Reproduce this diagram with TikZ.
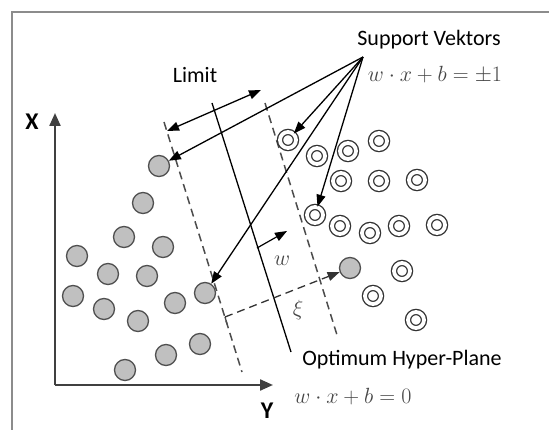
\RequirePackage{fix-cm}
\documentclass[tikz,border=0pt]{standalone}
\usepackage{fontspec}
\setmainfont{Carlito}
\usepackage{tikz}
\usetikzlibrary{arrows.meta,positioning,calc}
\definecolor{framegray}{RGB}{140,140,140}
\definecolor{dotgray}{RGB}{192,192,192}
\definecolor{edgegray}{RGB}{80,80,80}
\definecolor{eqgray}{RGB}{70,70,70}

\begin{document}
\begin{tikzpicture}[x=1pt,y=-1pt,
      arr/.style={-{Triangle[length=12pt,width=9pt]}, line width=1.3pt},
      axis/.style={-{Triangle[length=13pt,width=11pt]}, line width=2.2pt, black!75},
      marg/.style={dash pattern=on 8pt off 5pt, line width=1.5pt, black!70},
      lab/.style={font=\fontsize{22}{26}\selectfont, inner sep=0pt},
      eq/.style={font=\fontsize{22}{26}\selectfont, text=eqgray, inner sep=0pt},
      dotnode/.style={circle, draw=edgegray, fill=dotgray, line width=1.3pt,
                  minimum size=21pt, inner sep=0pt},
      ringnode/.style={circle, draw=black!80, double, double distance=3.8pt,
                  line width=1.3pt, minimum size=16pt, inner sep=0pt}
    ]
    \useasboundingbox (0,0) rectangle (549,430);
    \fill[white] (0,0) rectangle (549,430);
    % frame
    \draw[framegray, line width=2.5pt] (12,430) -- (12,12) -- (549,12);

    % axes
    \coordinate (o) at (55,385);
    \coordinate (xtip) at (55,113);
    \coordinate (ytip) at (273,385);
    \draw[axis] (o) -- (xtip);
    \draw[axis] (o) -- (ytip);
    \node[lab, font=\fontsize{24}{26}\selectfont\bfseries] (xlab) at (32,122) {X};
    \node[lab, font=\fontsize{24}{26}\selectfont\bfseries] (ylab) at (267,411) {Y};

    % margins and hyper-plane
    \coordinate (lefttop) at (164,122);  \coordinate (leftbot) at (242,372);
    \coordinate (hyptop) at (212,103);   \coordinate (hypbot) at (291,352);
    \coordinate (righttop) at (265,103); \coordinate (rightbot) at (337,335);
    \draw[marg] (lefttop) -- (leftbot);
    \draw[marg] (righttop) -- (rightbot);
    \draw[line width=1.3pt] (hyptop) -- (hypbot);

    % class -1
    \foreach \n/\p in {1/{159,166}, 2/{143,203}, 3/{124,237}, 4/{163,247},
                       5/{77,256}, 6/{108,274}, 7/{147,276}, 8/{73,296},
                       9/{104,309}, 10/{138,321}, 11/{175,303}, 12/{205,293},
                       13/{166,355}, 14/{200,344}, 15/{125,370}, 16/{350,268}}
      \node[dotnode] (g\n) at (\p) {};
    % class +1
    \foreach \n/\p in {1/{288,140}, 2/{317,156}, 3/{348,151}, 4/{379,141},
                       5/{341,181}, 6/{379,181}, 7/{417,180}, 8/{315,215},
                       9/{340,226}, 10/{370,233}, 11/{399,226}, 12/{437,225},
                       13/{402,271}, 14/{373,296}, 15/{416,320}}
      \node[ringnode] (r\n) at (\p) {};

    % labels
    \node[lab] (svlab) at (429,40) {Support Vektors};
    \node[eq] (sveq) at (435,75) {$w\cdot x+b=\pm 1$};
    \node[lab] (limit) at (195,75) {Limit};
    \node[lab] (optlab) at (402,360) {Optimum Hyper-Plane};
    \node[eq] (opteq) at (353,397) {$w\cdot x+b=0$};

    % support vectors
    \coordinate (sv) at (363,57);
    \draw[arr] (sv) -- (g1);
    \draw[arr] (sv) -- (r1);
    \draw[arr] (sv) -- (r8);
    \draw[arr] (sv) -- (g12);

    % limit width
    \coordinate (lim1) at (167,131);
    \coordinate (lim2) at (261,90);
    \draw[arr, {Triangle[length=12pt,width=9pt]}-{Triangle[length=12pt,width=9pt]}] (lim1) -- (lim2);

    % normal w
    \coordinate (w1) at (257,248);
    \coordinate (w2) at (287,231);
    \draw[arr, line width=1.2pt] (w1) -- (w2);
    \node[eq] (wlab) at (282,261) {$w$};

    % slack
    \coordinate (xi1) at (225,317);
    \draw[line width=1.3pt, black!70] (xi1) -- ($(xi1)+(2,7)$);
    \draw[arr, dash pattern=on 8pt off 5pt, black!80] (xi1) -- (g16);
    \node[eq] (xilab) at (298,310) {$\xi$};
  \end{tikzpicture}
\end{document}
